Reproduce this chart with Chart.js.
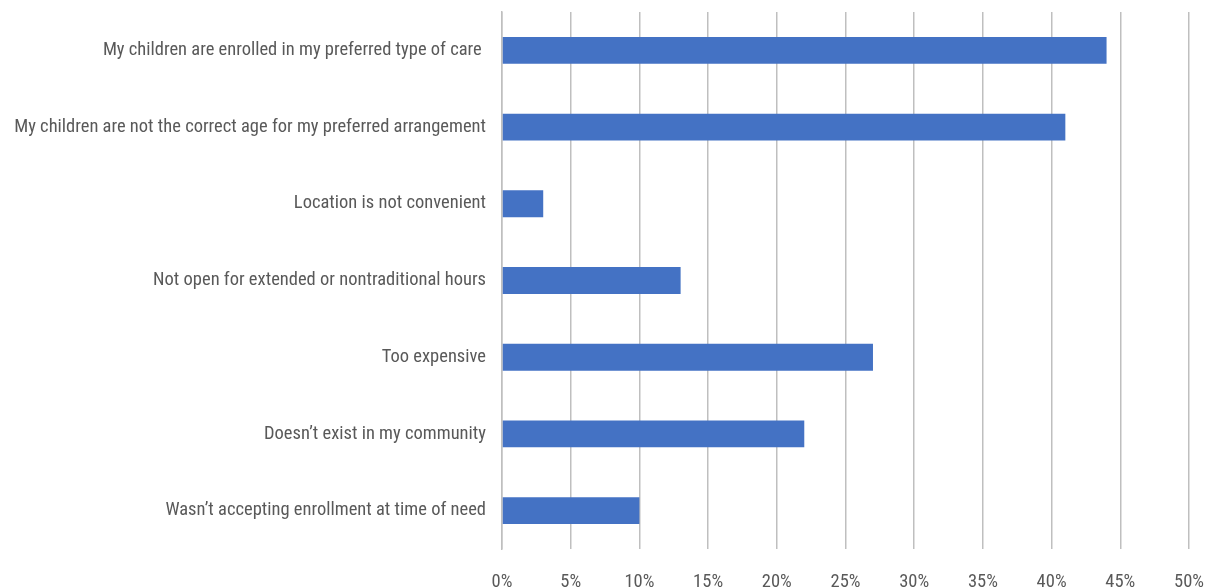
<!DOCTYPE html>
<html>
<head>
<meta charset="utf-8">
<script src="https://cdn.jsdelivr.net/npm/chart.js@4/dist/chart.umd.min.js"></script>
<style>
  html, body { margin: 0; padding: 0; background: #fff; }
  #wrap { width: 1212px; height: 588px; }
</style>
</head>
<body>
<div id="wrap"><canvas id="chart"></canvas></div>
<script>
const categories = [
    'My children are enrolled in my preferred type of care ',
    'My children are not the correct age for my preferred arrangement',
    'Location is not convenient',
    'Not open for extended or nontraditional hours',
    'Too expensive',
    'Doesn\u2019t exist in my community',
    'Wasn\u2019t accepting enrollment at time of need'
];
const shares = [44, 41, 3, 13, 27, 22, 10];
const xMin = 0;
const xMax = 50;
const xStep = 5;

const fontFamily = "'Liberation Sans Narrow', 'Roboto Condensed', 'DejaVu Sans Condensed', sans-serif";

new Chart(document.getElementById('chart'), {
    type: 'bar',
    data: {
        labels: categories,
        datasets: [{
            data: shares,
            backgroundColor: '#4472c4',
            barPercentage: 0.5,
            categoryPercentage: 0.7
        }]
    },
    options: {
        indexAxis: 'y',
        responsive: true,
        maintainAspectRatio: false,
        animation: false,
        layout: { padding: { top: 12, right: 23, left: 0, bottom: 0 } },
        plugins: {
            legend: { display: false },
            tooltip: { enabled: false }
        },
        scales: {
            x: {
                min: xMin,
                max: xMax,
                ticks: {
                    stepSize: xStep,
                    callback: v => v + '%',
                    color: '#595959',
                    font: { family: fontFamily, size: 18.5 },
                    padding: 22
                },
                grid: { color: '#bfbfbf', lineWidth: 1.5, drawTicks: false },
                border: { display: false },
                afterFit: s => { s.height = 39; s.paddingLeft = 0; s.paddingRight = 0; }
            },
            y: {
                ticks: {
                    color: '#595959',
                    font: { family: fontFamily, size: 18.5 },
                    padding: 16
                },
                grid: { display: false, drawTicks: false },
                border: { display: true, color: '#bfbfbf', width: 1.5 },
                afterFit: s => { s.width = 502; s.paddingTop = 0; s.paddingBottom = 0; }
            }
        }
    }
});
</script>
</body>
</html>
